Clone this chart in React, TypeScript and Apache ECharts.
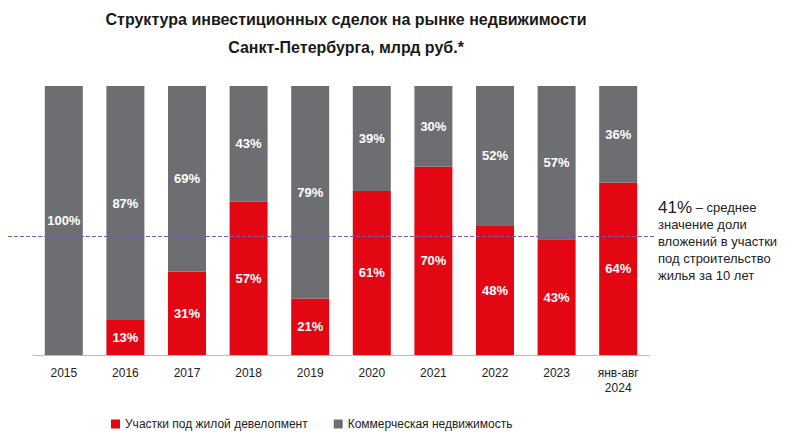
import React, { useEffect, useRef } from 'react';
import * as echarts from 'echarts';

const categories = ['2015', '2016', '2017', '2018', '2019', '2020', '2021', '2022', '2023', 'янв-авг\n2024'];
const residential = [0, 13, 31, 57, 21, 61, 70, 48, 43, 64];
const commercial = [100, 87, 69, 43, 79, 39, 30, 52, 57, 36];
const averageShare = 41;

const App = () => {
  const chartRef = useRef(null);

  useEffect(() => {
    const chart = echarts.init(chartRef.current, null, { renderer: 'svg' });
    const label = {
      show: true,
      position: 'inside',
      color: '#fff',
      fontSize: 13,
      fontWeight: 'bold',
      fontFamily: 'Liberation Sans',
      formatter: (p: any) => (p.value ? p.value + '%' : ''),
    };
    chart.setOption({
      animation: false,
      textStyle: { fontFamily: 'Liberation Sans' },
      title: {
        text: 'Структура инвестиционных сделок на рынке недвижимости\nСанкт-Петербурга, млрд руб.*',
        left: 333,
        textAlign: 'center',
        top: -8,
        textStyle: { fontSize: 16, fontWeight: 'bold', color: '#1a1a1a', lineHeight: 28, fontFamily: 'Liberation Sans' },
      },
      legend: {
        bottom: -3,
        left: 98,
        itemWidth: 9,
        itemHeight: 9,
        icon: 'rect',
        itemGap: 26,
        textStyle: { fontSize: 12, color: '#222' },
      },
      grid: { left: 25, right: 155, top: 78, bottom: 77 },
      xAxis: {
        type: 'category',
        data: categories,
        axisTick: { show: false },
        axisLine: { lineStyle: { color: '#bbb' } },
        axisLabel: { color: '#222', fontSize: 12, margin: 10, lineHeight: 15 },
      },
      yAxis: { type: 'value', min: 0, max: 100, show: false, splitLine: { show: false } },
      series: [
        {
          name: 'Участки под жилой девелопмент',
          type: 'bar',
          stack: 'a',
          barWidth: 38,
          data: residential,
          itemStyle: { color: '#e30613' },
          label,
          markLine: {
            silent: true,
            symbol: 'none',
            label: { show: false },
            lineStyle: { color: '#7a5aa6', type: 'dashed', width: 1 },
            data: [[{ x: 0, yAxis: averageShare + 3 }, { x: 647, yAxis: averageShare + 3 }]],
          },
        },
        {
          name: 'Коммерческая недвижимость',
          type: 'bar',
          stack: 'a',
          barWidth: 38,
          data: commercial,
          itemStyle: { color: '#6d6e71' },
          label,
        },
      ],
      graphic: [
        {
          type: 'text',
          left: 650,
          top: 191,
          style: {
            text: '{b|' + averageShare + '%} – среднее\nзначение доли\nвложений в участки\nпод строительство\nжилья за 10 лет',
            fill: '#222',
            font: '13px Liberation Sans',
            lineHeight: 17,
            rich: { b: { fontSize: 17, fontWeight: 'normal', fill: '#222' } },
          },
        },
      ],
    });
    return () => chart.dispose();
  }, []);

  return <div ref={chartRef} style={{ width: '796px', height: '424px' }} />;
};

export default App;
